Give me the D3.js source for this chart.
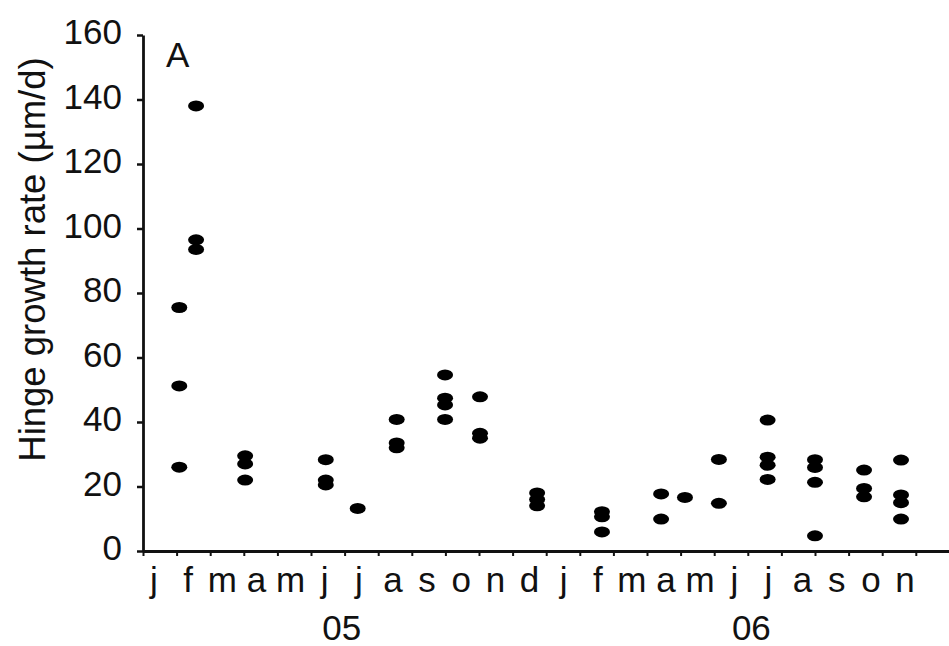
<!DOCTYPE html>
<html>
<head>
<meta charset="utf-8">
<script src="https://cdn.jsdelivr.net/npm/d3@7/dist/d3.min.js"></script>
<style>
  html, body { margin: 0; padding: 0; background: #fff; }
  svg { display: block; font-family: "Liberation Sans", Arial, sans-serif; }
</style>
</head>
<body>
<svg id="chart" width="949" height="646"></svg>
<script>
// Sampling dates, in months since 1 January 2005
const sampleMonths = [1.08, 1.58, 3.04, 5.44, 6.39, 7.55, 8.99, 10.03, 11.73,
                      13.66, 15.42, 16.13, 17.14, 18.59, 20.0, 21.46, 22.56];
// Hinge growth rates (µm/d) measured at each sampling date
const growthRates = [
  [75.5, 51.2, 26],
  [138, 96.5, 93.5],
  [29.5, 27, 22],
  [28.3, 22, 20.5],
  [13.2],
  [40.8, 33.5, 32],
  [54.6, 47.4, 45.3, 40.8],
  [47.8, 36.5, 35],
  [18, 16, 14],
  [12.2, 10.6, 5.9],
  [17.7, 9.9],
  [16.6],
  [28.4, 14.8],
  [40.6, 29.1, 26.6, 22.2],
  [28.3, 25.9, 21.3, 4.7],
  [25.1, 19.4, 16.8],
  [28.2, 17.4, 15, 9.9]
];
const monthLabels = ["j","f","m","a","m","j","j","a","s","o","n","d",
                     "j","f","m","a","m","j","j","a","s","o","n"];
const yearLabels = ["05", "06"];
const yTicks = [0, 20, 40, 60, 80, 100, 120, 140, 160];
const yTitle = "Hinge growth rate (µm/d)";
const panelLetter = "A";

const points = [];
sampleMonths.forEach((m, i) => growthRates[i].forEach(v => points.push({m, v})));

const svg = d3.select("#chart");
const x0 = 143, x1 = 949.4, yTop = 35, yBot = 551;
const fs = 35;

const x = d3.scaleLinear().domain([0, 24]).range([x0, x1]);
const y = d3.scaleLinear().domain([0, 160]).range([yBot, yTop]);
const labelX = d3.scalePoint().domain(d3.range(monthLabels.length)).range([154, 905]);

// Y axis
const yAxis = svg.append("g").attr("transform", `translate(${x0},0)`)
  .call(d3.axisLeft(y).tickValues(yTicks).tickSize(6).tickPadding(15).tickSizeOuter(0));
yAxis.select(".domain").attr("stroke", "#111").attr("stroke-width", 2.8);
yAxis.selectAll(".tick line").attr("stroke", "#111").attr("stroke-width", 2.5);
yAxis.selectAll(".tick text").attr("font-size", fs).attr("fill", "#111")
  .attr("font-family", "Liberation Sans, Arial, sans-serif").attr("dy", "0.25em");

// X axis (month ticks)
const xAxis = svg.append("g").attr("transform", `translate(0,${yBot})`)
  .call(d3.axisBottom(x).tickValues(d3.range(0, 24)).tickSize(5).tickFormat("").tickSizeOuter(0));
xAxis.select(".domain").attr("stroke", "#111").attr("stroke-width", 3);
xAxis.selectAll(".tick line").attr("stroke", "#111").attr("stroke-width", 2);

// Month labels
svg.append("g").selectAll("text").data(monthLabels).join("text")
  .attr("x", (d, i) => labelX(i)).attr("y", 592)
  .attr("text-anchor", "middle").attr("font-size", fs).attr("fill", "#111")
  .text(d => d);

// Year labels centred between the two "j" months of each year
const yearPos = [(labelX(5) + labelX(6)) / 2, (labelX(17) + labelX(18)) / 2];
svg.append("g").selectAll("text").data(yearLabels).join("text")
  .attr("x", (d, i) => yearPos[i]).attr("y", 640)
  .attr("text-anchor", "middle").attr("font-size", fs).attr("fill", "#111")
  .text(d => d);

// Y title
svg.append("text")
  .attr("transform", `translate(45,${(467 + 52) / 2}) rotate(-90)`)
  .attr("text-anchor", "middle").attr("font-size", 36.5).attr("fill", "#111")
  .text(yTitle);

// Panel letter
svg.append("text").attr("x", 166).attr("y", 67)
  .attr("font-size", fs).attr("fill", "#111").text(panelLetter);

// Points
svg.append("g").selectAll("ellipse").data(points).join("ellipse")
  .attr("cx", d => x(d.m)).attr("cy", d => y(d.v))
  .attr("rx", 8).attr("ry", 5.5).attr("fill", "#000");
</script>
</body>
</html>
